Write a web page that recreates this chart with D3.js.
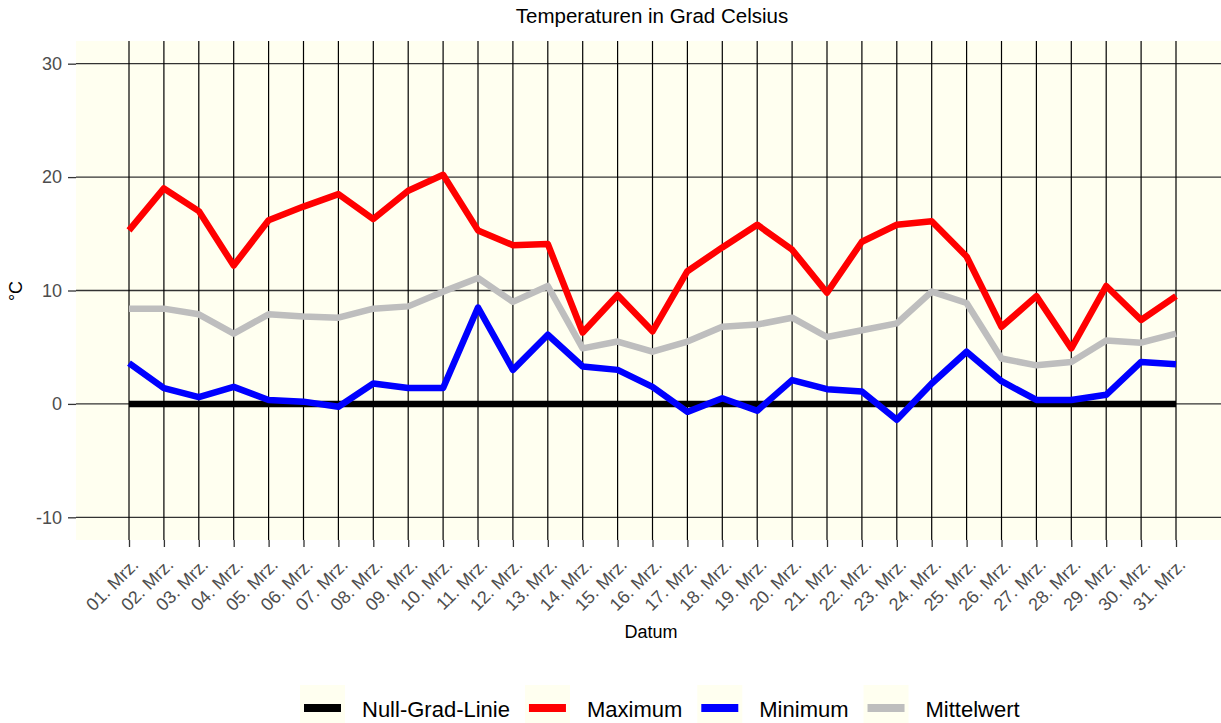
<!DOCTYPE html>
<html>
<head>
<meta charset="utf-8">
<script src="https://cdn.jsdelivr.net/npm/d3@7"></script>
<style>
  body { margin: 0; background: #fff; }
  svg { display: block; font-family: "Liberation Sans", Arial, sans-serif; }
</style>
</head>
<body>
<svg></svg>
<script>
const width = 1221
const height = 723

// days of March
const days = d3.range(1, 32).map(d => (d < 10 ? "0" + d : "" + d) + ". Mrz.")

const maximum = [15.3, 19.0, 17.0, 12.2, 16.2, 17.4, 18.5, 16.3, 18.8, 20.2,
  15.3, 14.0, 14.1, 6.3, 9.6, 6.4, 11.7, 13.8, 15.8, 13.6,
  9.8, 14.3, 15.8, 16.1, 13.0, 6.8, 9.5, 4.9, 10.4, 7.4, 9.5]

const minimum = [3.6, 1.4, 0.6, 1.5, 0.35, 0.2, -0.25, 1.8, 1.4, 1.4,
  8.5, 3.0, 6.1, 3.3, 3.0, 1.5, -0.7, 0.5, -0.6, 2.1,
  1.3, 1.1, -1.4, 1.8, 4.6, 2.0, 0.35, 0.35, 0.8, 3.7, 3.5]

const mittelwert = [8.4, 8.4, 7.9, 6.2, 7.9, 7.7, 7.6, 8.4, 8.6, 9.9,
  11.1, 9.0, 10.4, 4.9, 5.5, 4.6, 5.5, 6.8, 7.0, 7.6,
  5.9, 6.5, 7.1, 9.9, 8.9, 4.0, 3.4, 3.7, 5.6, 5.4, 6.2]

const nullLinie = days.map(() => 0)

const yTicks = [-10, 0, 10, 20, 30]

const series = [
  { name: "Null-Grad-Linie", color: "#000000", values: nullLinie },
  { name: "Maximum", color: "#ff0000", values: maximum },
  { name: "Minimum", color: "#0000ff", values: minimum },
  { name: "Mittelwert", color: "#bebebe", values: mittelwert }
]

const margin = { top: 41, right: 0, bottom: 183, left: 76 }

const svg = d3.select("svg")
  .attr("width", width)
  .attr("height", height)

const x = d3.scalePoint()
  .domain(days)
  .range([129, 1176])

const y = d3.scaleLinear()
  .domain([-12, 32])
  .range([height - margin.bottom, margin.top])

// panel
svg.append("rect")
  .attr("x", margin.left)
  .attr("y", margin.top)
  .attr("width", width - margin.left - margin.right)
  .attr("height", y(-12) - y(32))
  .attr("fill", "#fffff0")

// grid
svg.append("g")
  .selectAll("line")
  .data(yTicks)
  .enter().append("line")
    .attr("x1", margin.left)
    .attr("x2", width - margin.right)
    .attr("y1", d => y(d))
    .attr("y2", d => y(d))
    .attr("stroke", "#333")
    .attr("stroke-width", 1.3)

svg.append("g")
  .selectAll("line")
  .data(days)
  .enter().append("line")
    .attr("x1", d => x(d))
    .attr("x2", d => x(d))
    .attr("y1", margin.top)
    .attr("y2", y(-12))
    .attr("stroke", "#000")
    .attr("stroke-width", 1.2)

// axes
const yAxis = svg.append("g")
  .attr("transform", `translate(${margin.left},0)`)
  .call(d3.axisLeft(y).tickValues(yTicks).tickFormat(d => String(d)).tickSize(8).tickPadding(6))
yAxis.select(".domain").remove()
yAxis.selectAll(".tick line").attr("stroke", "#333").attr("stroke-width", 1.3)
yAxis.selectAll(".tick text")
  .attr("fill", "#4d4d4d")
  .style("font-size", "18px")
  .style("font-family", "Liberation Sans, Arial, sans-serif")

const xAxis = svg.append("g")
  .attr("transform", `translate(0,${y(-12)})`)
  .call(d3.axisBottom(x).tickSize(7))
xAxis.select(".domain").remove()
xAxis.selectAll(".tick line").attr("stroke", "#333").attr("stroke-width", 1.3)
xAxis.selectAll(".tick text")
  .attr("fill", "#4d4d4d")
  .style("font-size", "18px")
  .style("font-family", "Liberation Sans, Arial, sans-serif")
  .attr("text-anchor", "end")
  .attr("x", 0)
  .attr("y", 0)
  .attr("dy", "0.71em")
  .attr("transform", "translate(1,17) rotate(-45)")

// lines
const line = d3.line()
  .x((d, i) => x(days[i]))
  .y(d => y(d))

svg.append("g")
  .selectAll("path")
  .data(series)
  .enter().append("path")
    .attr("d", d => line(d.values))
    .attr("fill", "none")
    .attr("stroke", d => d.color)
    .attr("stroke-width", 6.5)
    .attr("stroke-linejoin", "round")

// titles
svg.append("text")
  .attr("x", 652)
  .attr("y", 23)
  .attr("text-anchor", "middle")
  .style("font-size", "20.5px")
  .text("Temperaturen in Grad Celsius")

svg.append("text")
  .attr("x", 651)
  .attr("y", 638)
  .attr("text-anchor", "middle")
  .style("font-size", "18px")
  .text("Datum")

svg.append("text")
  .attr("transform", "translate(22,291) rotate(-90)")
  .attr("text-anchor", "middle")
  .style("font-size", "18px")
  .text("°C")

// legend
const legend = svg.append("g")
let lx = 300
series.forEach(s => {
  const item = legend.append("g").attr("transform", `translate(${lx},685)`)
  item.append("rect")
    .attr("width", 45)
    .attr("height", 45)
    .attr("fill", "#fffff0")
  item.append("line")
    .attr("x1", 4)
    .attr("x2", 41)
    .attr("y1", 23)
    .attr("y2", 23)
    .attr("stroke", s.color)
    .attr("stroke-width", 8)
  const t = item.append("text")
    .attr("x", 62)
    .attr("y", 32)
    .style("font-size", "22px")
    .text(s.name)
  lx += 62 + t.node().getComputedTextLength() + 15
})
</script>
</body>
</html>
